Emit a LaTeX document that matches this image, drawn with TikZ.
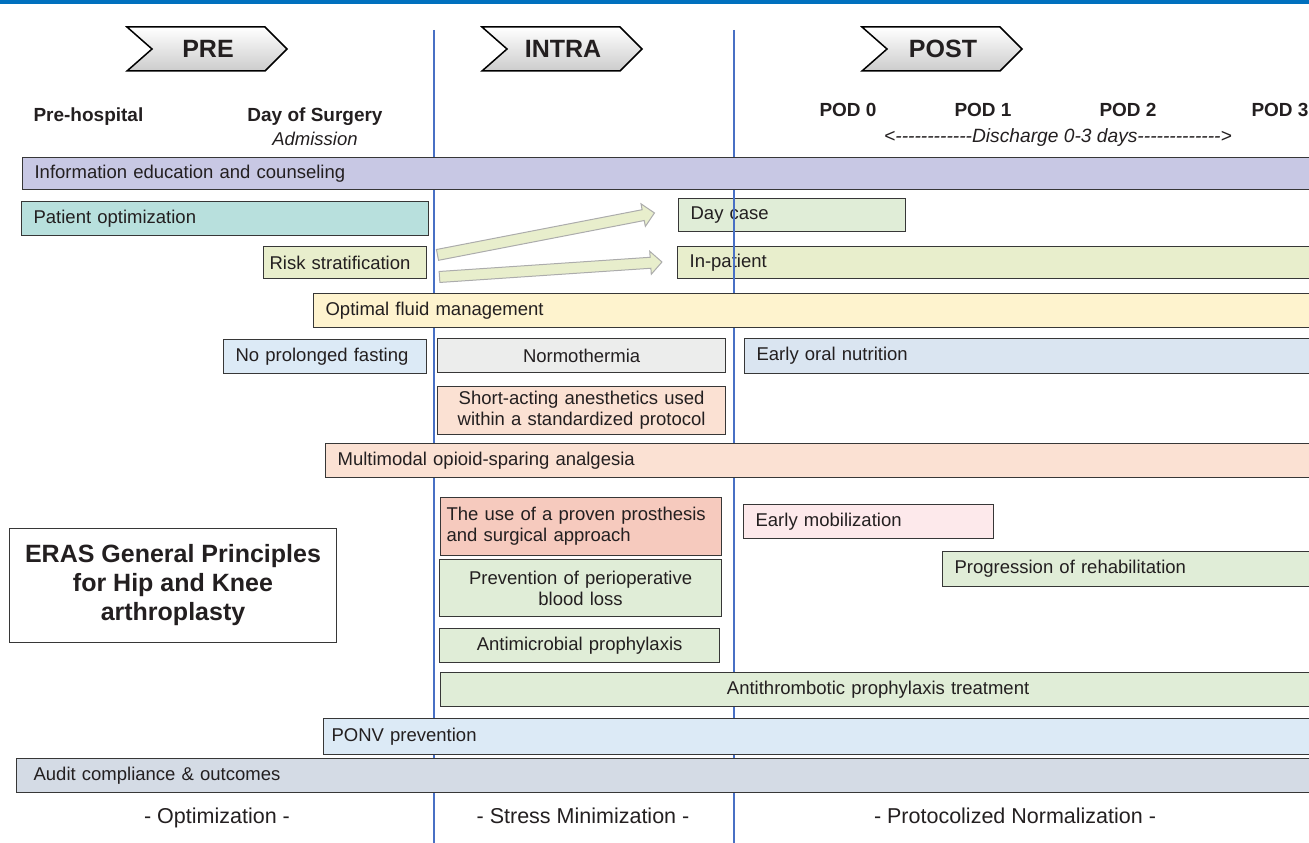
\documentclass[tikz,border=0pt]{standalone}
\usepackage{fontspec}
\setmainfont{Liberation Sans}
\usepackage{tikz}
\usetikzlibrary{shapes.arrows,positioning}
\hyphenpenalty=10000
\exhyphenpenalty=10000

\definecolor{topblue}{RGB}{0,112,190}
\definecolor{phaseblue}{RGB}{72,112,196}
\definecolor{boxline}{RGB}{55,55,55}
\definecolor{txt}{RGB}{35,31,32}
\definecolor{cInfo}{RGB}{200,200,228}
\definecolor{cOpt}{RGB}{184,224,221}
\definecolor{cGreen}{RGB}{224,237,215}
\definecolor{cRisk}{RGB}{232,238,204}
\definecolor{cFluid}{RGB}{254,243,206}
\definecolor{cBlue}{RGB}{220,234,246}
\definecolor{cOral}{RGB}{218,229,241}
\definecolor{cGrey}{RGB}{236,237,236}
\definecolor{cPeach}{RGB}{251,225,211}
\definecolor{cSalmon}{RGB}{246,202,190}
\definecolor{cPink}{RGB}{253,233,235}
\definecolor{cAudit}{RGB}{212,219,229}

\tikzset{
  box/.style={draw=boxline, line width=1.2pt, anchor=north west,
              inner xsep=12pt, inner ysep=0pt, text=txt,
              font=\fontsize{18.5}{21}\selectfont},
  lbox/.style={box, align=left},
  cbox/.style={box, align=center},
  head/.style={text=txt, font=\fontsize{19}{22}\selectfont\bfseries},
  phase/.style={text=txt, font=\fontsize{25}{28}\selectfont\bfseries},
  motto/.style={text=txt, anchor=base, font=\fontsize{21.5}{24}\selectfont},
  arr/.style={single arrow, draw=gray!65, line width=1pt, fill=cRisk,
              minimum width=0pt, inner xsep=0pt, inner ysep=5pt,
              single arrow head extend=6pt, single arrow tip angle=90,
              single arrow head indent=0pt, anchor=tail},
}

\begin{document}
\begin{tikzpicture}[x=1pt,y=-1pt]

  \useasboundingbox (0,0) rectangle (1309,843);

  % rule on top and phase separators
  \draw[topblue, line width=4pt] (0,2) -- (1309,2);
  \draw[phaseblue, line width=1.6pt] (434,30) -- (434,843);
  \draw[phaseblue, line width=1.6pt] (734,30) -- (734,843);

  % phase chevrons
  \foreach \cx/\lab/\nm in {127/PRE/pre, 482/INTRA/intra, 862/POST/post} {
    \shade[top color=white, bottom color=gray!40, draw=black, line width=1.5pt]
      (\cx,27) -- ++(138,0) -- ++(22,22) -- ++(-22,22) -- ++(-138,0)
      -- ++(25,-22) -- cycle;
    \node[phase] (\nm) at (\cx+81,49) {\lab};
  }

  % time headings
  \node[head, anchor=west] (prehosp) at (30,117) {Pre-hospital};
  \node[head] (dos) at (315,117) {Day of Surgery};
  \node[text=txt, font=\fontsize{18.5}{21}\selectfont\itshape] (adm) at (315,139) {Admission};
  \node[head] (pod0) at (848,110) {POD 0};
  \node[head] (pod1) at (983,110) {POD 1};
  \node[head] (pod2) at (1128,110) {POD 2};
  \node[head] (pod3) at (1280,110) {POD 3};
  \node[text=txt, font=\fontsize{19.2}{22}\selectfont\itshape] (disch) at (1058,138)
    {<{}-{}-{}-{}-{}-{}-{}-{}-{}-{}-{}-{}-Discharge 0-3 days-{}-{}-{}-{}-{}-{}-{}-{}-{}-{}-{}-{}-{}>};

  % element bars
  \node[lbox, fill=cInfo, minimum height=32pt, text width=1269pt] (info) at (22,157)
    {Information education and counseling};
  \node[lbox, fill=cOpt, minimum height=34pt, text width=383pt] (popt) at (21,201)
    {Patient optimization};
  \node[lbox, fill=cGreen, minimum height=33pt, text width=203pt] (daycase) at (678,198)
    {Day case};
  \node[lbox, fill=cRisk, minimum height=32pt, text width=151pt, inner xsep=6pt] (risk) at (263,246)
    {Risk stratification};
  \node[lbox, fill=cRisk, minimum height=32pt, text width=614pt] (inpat) at (677,246)
    {In-patient};
  \node[lbox, fill=cFluid, minimum height=34pt, text width=978pt] (fluid) at (313,293)
    {Optimal fluid management};
  \node[lbox, fill=cBlue, minimum height=34pt, text width=179pt] (fasting) at (223,339)
    {No prolonged fasting};
  \node[cbox, fill=cGrey, minimum height=34pt, text width=264pt] (normo) at (437,338)
    {Normothermia};
  \node[lbox, fill=cOral, minimum height=35pt, text width=547pt] (oral) at (744,338)
    {Early oral nutrition};
  \node[cbox, fill=cPeach, minimum height=48pt, text width=276pt, inner xsep=6pt] (anaes) at (437,386)
    {Short-acting anesthetics used\\within a standardized protocol};
  \node[lbox, fill=cPeach, minimum height=34pt, text width=966pt] (multi) at (325,443)
    {Multimodal opioid-sparing analgesia};
  \node[lbox, fill=cSalmon, minimum height=58pt, text width=269pt, inner xsep=6pt] (prost) at (440,497)
    {The use of a proven prosthesis\\and surgical approach};
  \node[lbox, fill=cPink, minimum height=34pt, text width=226pt] (mobil) at (743,504)
    {Early mobilization};
  \node[cbox, fill=cGreen, minimum height=57pt, text width=258pt] (bloodloss) at (439,559)
    {Prevention of perioperative\\blood loss};
  \node[lbox, fill=cGreen, minimum height=35pt, text width=349pt] (rehab) at (942,551)
    {Progression of rehabilitation};
  \node[cbox, fill=cGreen, minimum height=34pt, text width=256pt] (antimic) at (439,628)
    {Antimicrobial prophylaxis};
  \node[cbox, fill=cGreen, minimum height=34pt, text width=851pt] (antithr) at (440,672)
    {Antithrombotic prophylaxis treatment};
  \node[lbox, fill=cBlue, minimum height=36pt, text width=976pt, inner xsep=8pt] (ponv) at (323,718)
    {PONV prevention};
  \node[lbox, fill=cAudit, minimum height=34pt, text width=1265pt, inner xsep=17pt] (audit) at (16,758)
    {Audit compliance \& outcomes};

  % separator shows through the two pathway boxes
  \draw[phaseblue, line width=1.6pt] (734,196) -- (734,280);

  % pathway arrows
  \node[arr, minimum height=221pt, rotate=10.95] (todaycase) at (437,255) {};
  \node[arr, minimum height=223pt, rotate=3.85] (toinpat) at (439,277) {};

  % title box
  \node[draw=boxline, line width=1pt, fill=white, anchor=north west,
        minimum width=327pt, minimum height=114pt, align=center, text=txt,
        font=\fontsize{25}{29}\selectfont\bfseries] (eras) at (9,528)
    {ERAS General Principles\\for Hip and Knee\\arthroplasty};

  % phase mottos
  \node[motto] (mopt) at (217,823) {- Optimization -};
  \node[motto] (mstress) at (583,823) {- Stress Minimization -};
  \node[motto] (mnorm) at (1015,823) {- Protocolized Normalization -};

\end{tikzpicture}
\end{document}
